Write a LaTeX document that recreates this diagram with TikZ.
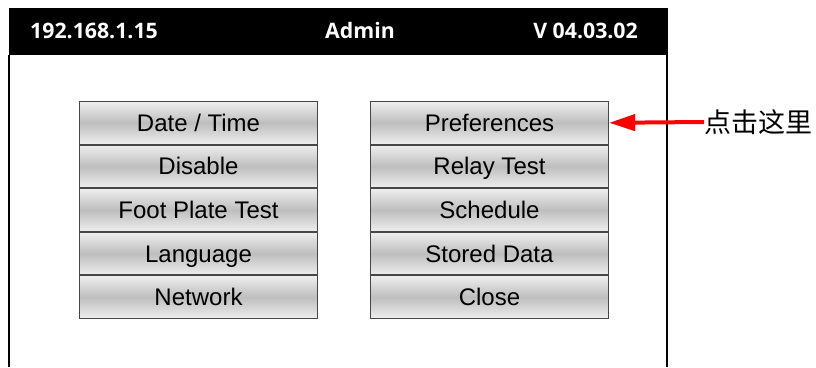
\documentclass[tikz,border=0pt]{standalone}
\usepackage{fontspec}
\setmainfont{Liberation Sans}
\newfontfamily\hdrfont{Open Sans}
\newfontfamily\cjk{Noto Sans CJK SC}
\usepackage{tikz}
\usetikzlibrary{positioning,arrows.meta}

\definecolor{btnmid}{RGB}{190,190,190}
\definecolor{btnedge}{RGB}{238,238,238}
\definecolor{btnline}{RGB}{70,70,70}

\tikzset{
    menubtn/.style={draw=btnline, line width=1pt, minimum width=238pt, minimum height=42.6pt,
        top color=btnedge, bottom color=btnedge, middle color=btnmid,
        inner sep=0pt, text height=17pt, text depth=0pt, font=\fontsize{24}{26}\selectfont},
    hdrtext/.style={text=white, font=\hdrfont\bfseries\fontsize{21.3}{23}\selectfont, inner sep=0pt}
}

\begin{document}
\begin{tikzpicture}[x=1pt, y=-1pt]
        \useasboundingbox (0,0) rectangle (816,367);
        % title bar and screen frame
        \fill[black] (9,8) rectangle (668,55);
        \draw[line width=2pt] (9,55) -- (9,367);
        \draw[line width=2pt] (667,55) -- (667,367);
        \node[hdrtext, anchor=west] (ip) at (30,31) {192.168.1.15};
        \node[hdrtext] (user) at (360,31) {Admin};
        \node[hdrtext, anchor=east] (ver) at (638,31) {V 04.03.02};
        % left column
        \node[menubtn, anchor=north west] (date) at (79,101) {Date / Time};
        \node[menubtn, below=0pt of date] (disable) {Disable};
        \node[menubtn, below=0pt of disable] (foot) {Foot Plate Test};
        \node[menubtn, below=0pt of foot] (lang) {Language};
        \node[menubtn, below=0pt of lang] (net) {Network};
        % right column
        \node[menubtn, anchor=north west] (pref) at (370,101) {Preferences};
        \node[menubtn, below=0pt of pref] (relay) {Relay Test};
        \node[menubtn, below=0pt of relay] (sched) {Schedule};
        \node[menubtn, below=0pt of sched] (stored) {Stored Data};
        \node[menubtn, below=0pt of stored] (close) {Close};
        % pointer
        \node[anchor=west, inner sep=0pt, font=\cjk\fontsize{27}{29}\selectfont] (hint) at (704,122) {点击这里};
        \draw[red, line width=4pt, -{Triangle[length=26pt, width=16pt]}] (hint.west) -- (pref.east);
    \end{tikzpicture}
\end{document}
